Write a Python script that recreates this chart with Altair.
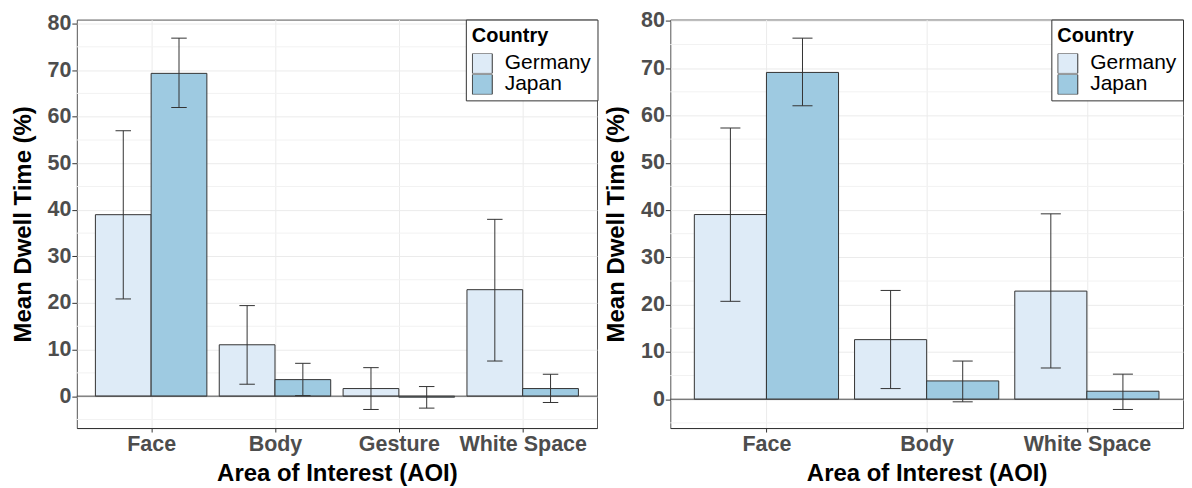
import altair as alt
import pandas as pd

COUNTRIES = ["Germany", "Japan"]
COLORS = ["#deebf7", "#9ecae1"]

# Left panel
L_CATS = ["Face", "Body", "Gesture", "White Space"]
L_GER_MEAN = [38.96, 11.03, 1.63, 22.86]
L_GER_LO = [20.87, 2.56, -2.86, 7.54]
L_GER_HI = [56.98, 19.44, 6.12, 37.96]
L_JPN_MEAN = [69.30, 3.55, -0.22, 1.63]
L_JPN_LO = [61.97, 0.12, -2.57, -1.36]
L_JPN_HI = [76.86, 7.05, 2.06, 4.70]

# Right panel
R_CATS = ["Face", "Body", "White Space"]
R_GER_MEAN = [39.05, 12.60, 22.86]
R_GER_LO = [20.70, 2.25, 6.60]
R_GER_HI = [57.35, 23.00, 39.20]
R_JPN_MEAN = [69.10, 3.87, 1.69]
R_JPN_LO = [62.05, -0.55, -2.17]
R_JPN_HI = [76.35, 8.07, 5.30]

Y_TICKS = [0, 10, 20, 30, 40, 50, 60, 70, 80]
Y_MINOR = [-5, 5, 15, 25, 35, 45, 55, 65, 75]
REF_LINE = [0]

X_TITLE = "Area of Interest (AOI)"
Y_TITLE = "Mean Dwell Time (%)"

DODGE = 0.225
HALF_BAR = 0.225
CAP_HALF = 0.0625


def panel(cats, g_mean, g_lo, g_hi, j_mean, j_lo, j_hi, width, height):
    rows = []
    for i, c in enumerate(cats):
        for country, m, lo, hi, off in [
            ("Germany", g_mean[i], g_lo[i], g_hi[i], -DODGE),
            ("Japan", j_mean[i], j_lo[i], j_hi[i], DODGE),
        ]:
            xc = i + off
            rows.append(dict(cat=c, country=country, mean=m, lo=lo, hi=hi,
                             xc=xc, x0=xc - HALF_BAR, x1=xc + HALF_BAR,
                             c0=xc - CAP_HALF, c1=xc + CAP_HALF, zero=0))
    df = pd.DataFrame(rows)
    ymin = min(df["lo"].min(), 0)
    ymax = df["hi"].max()
    pad = 0.05 * (ymax - ymin)
    ys = alt.Scale(domain=[ymin - pad, ymax + pad], nice=False, zero=False)
    xs = alt.Scale(domain=[-0.6, len(cats) - 1 + 0.6], nice=False, zero=False)
    label_expr = "[" + ",".join("'%s'" % c for c in cats) + "][datum.value]"

    x_axis = alt.Axis(values=list(range(len(cats))), labelExpr=label_expr,
                      title=X_TITLE, grid=True, domain=True, domainColor="#333",
                      tickSize=4, labelPadding=2, titlePadding=6.5,
                      labelFlush=False, labelOverlap=False)
    y_axis = alt.Axis(values=Y_TICKS, title=Y_TITLE, grid=True, domain=False,
                      tickSize=5, labelPadding=1, titlePadding=12)

    minor = alt.Chart(pd.DataFrame({"v": Y_MINOR})).mark_rule(
        color="#f2f2f2", strokeWidth=1).encode(
        y=alt.Y("v:Q", scale=ys, axis=y_axis))

    bars = alt.Chart(df).mark_bar(stroke="#333", strokeWidth=1).encode(
        x=alt.X("x0:Q", scale=xs, axis=x_axis),
        x2="x1:Q",
        y=alt.Y("mean:Q", scale=ys, axis=y_axis),
        y2="zero:Q",
        fill=alt.Fill("country:N",
                      scale=alt.Scale(domain=COUNTRIES, range=COLORS),
                      legend=alt.Legend(title="Country", orient="top-right", offset=0)),
    )

    zero = alt.Chart(pd.DataFrame({"v": REF_LINE})).mark_rule(
        color="#444", strokeWidth=1).encode(y=alt.Y("v:Q", scale=ys, axis=y_axis))

    err = alt.Chart(df).mark_rule(color="#333", strokeWidth=1).encode(
        x=alt.X("xc:Q", scale=xs, axis=x_axis),
        y=alt.Y("lo:Q", scale=ys, axis=y_axis),
        y2="hi:Q",
    )
    cap_hi = alt.Chart(df).mark_rule(color="#333", strokeWidth=1).encode(
        x=alt.X("c0:Q", scale=xs, axis=x_axis), x2="c1:Q",
        y=alt.Y("hi:Q", scale=ys, axis=y_axis),
    )
    cap_lo = alt.Chart(df).mark_rule(color="#333", strokeWidth=1).encode(
        x=alt.X("c0:Q", scale=xs, axis=x_axis), x2="c1:Q",
        y=alt.Y("lo:Q", scale=ys, axis=y_axis),
    )
    return alt.layer(minor, bars, zero, err, cap_hi, cap_lo).properties(
        width=width, height=height)


left = panel(L_CATS, L_GER_MEAN, L_GER_LO, L_GER_HI,
             L_JPN_MEAN, L_JPN_LO, L_JPN_HI, 521.5, 409.5)
right = panel(R_CATS, R_GER_MEAN, R_GER_LO, R_GER_HI,
              R_JPN_MEAN, R_JPN_LO, R_JPN_HI, 514, 409.5)

chart = alt.hconcat(left, right, spacing=5).resolve_scale(
    fill="independent").resolve_legend(fill="independent").properties(
    padding={"left": 2, "top": 0, "right": 0, "bottom": 0}
).configure_view(stroke="#555", strokeWidth=1).configure_axis(
    labelFont="Liberation Sans", labelFontWeight="bold", labelColor="#4d4d4d",
    labelFontSize=21.5, titleFont="Liberation Sans", titleFontSize=24,
    titleFontWeight="bold", titleColor="#000", tickColor="#333",
    gridColor="#ebebeb", gridWidth=1,
).configure_legend(
    titleFont="Liberation Sans", titleFontSize=20, titleFontWeight="bold",
    titleColor="#000", labelFont="Liberation Sans", labelFontSize=21,
    labelColor="#000", symbolType="square", symbolSize=400,
    symbolStrokeColor="#333", symbolStrokeWidth=1, symbolOpacity=1,
    strokeColor="#333", fillColor="white", padding=6, rowPadding=0,
    clipHeight=20, labelOffset=12, titlePadding=8,
)

chart.save("out.html", embed_options={"renderer": "svg", "actions": False})
